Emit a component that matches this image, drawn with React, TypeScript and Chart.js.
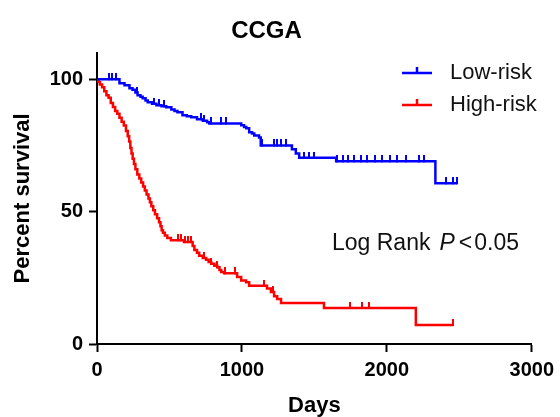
import { useEffect, useRef } from "react";
import { Chart, registerables } from "chart.js";

Chart.register(...registerables);

const FONT = "'Liberation Sans', Arial, Helvetica, sans-serif";

const chartTitle = "CCGA";
const xAxisTitle = "Days";
const yAxisTitle = "Percent survival";
const xTickValues = [0, 1000, 2000, 3000];
const yTickValues = [0, 50, 100];
const seriesNames = ["Low-risk", "High-risk"];
const seriesColors = ["#0000ff", "#ff0000"];
const annotationLead = "Log Rank";
const annotationItalic = "P";
const annotationOp = "<";
const annotationValue = "0.05";

// Low-risk Kaplan-Meier steps (day, percent survival after the step)
const lowRiskDays = [0, 155, 190, 224, 245, 265, 280, 300, 315, 335, 350, 380, 410, 445, 478, 513, 535, 555, 590, 620, 650, 690, 730, 760, 775, 995, 1015, 1030, 1050, 1070, 1085, 1118, 1130, 1345, 1372, 1395, 1650, 2335, 2485];
const lowRiskSurv = [100, 98.5, 97.7, 96.6, 96, 95, 94, 93.4, 92.8, 92, 91.3, 90.8, 90.2, 89.8, 89.4, 88.6, 88, 87.5, 86.4, 86, 85.7, 84.9, 84.3, 83.8, 83.3, 82.6, 82, 81.5, 80, 79.5, 78.8, 78, 75, 73.6, 72, 70.4, 69, 60.7, 60.7];
const lowRiskCensored = [85, 105, 130, 275, 395, 430, 460, 720, 740, 790, 857, 890, 1140, 1220, 1245, 1270, 1305, 1430, 1465, 1500, 1655, 1700, 1735, 1770, 1820, 1860, 1920, 1965, 2025, 2070, 2130, 2220, 2255, 2410, 2455, 2485];

// High-risk Kaplan-Meier steps
const highRiskDays = [0, 10, 20, 35, 50, 65, 80, 95, 110, 125, 140, 155, 170, 185, 200, 212, 222, 230, 238, 246, 255, 265, 278, 292, 305, 318, 330, 342, 355, 365, 375, 388, 400, 415, 428, 438, 446, 455, 468, 485, 510, 600, 660, 672, 690, 705, 730, 753, 770, 788, 810, 830, 845, 857, 877, 967, 995, 1029, 1050, 1173, 1200, 1222, 1243, 1270, 1566, 2200, 2460];
const highRiskSurv = [100, 99, 98, 97, 95.5, 94, 93, 91, 89.5, 88, 87, 85.5, 84, 82.5, 80.5, 78.5, 76.5, 74, 72, 70, 68, 66, 64, 62.5, 61, 59.5, 58, 56.5, 55, 53.5, 52, 50.5, 49, 47.5, 46, 44.5, 43, 42, 41, 40, 39.2, 38.5, 37, 35.5, 34.5, 33.3, 32.5, 31.8, 31, 30.3, 29.6, 29, 28, 27.2, 26.7, 25.3, 24, 23.3, 22, 21, 19.6, 18, 17, 15.5, 13.6, 7.2, 7.2];
const highRiskCensored = [560, 580, 610, 625, 650, 740, 790, 830, 880, 950, 1150, 1215, 1745, 1830, 1875, 2460];

function survivalAt(days: number[], surv: number[], t: number) {
  let s = surv[0];
  for (let i = 0; i < days.length; i++) if (days[i] <= t) s = surv[i];
  return s;
}

function tickImage(color: string) {
  const c = document.createElement("canvas");
  c.width = 2;
  c.height = 12;
  const ctx = c.getContext("2d")!;
  ctx.fillStyle = color;
  ctx.fillRect(0, 0, 2, 7);
  return c;
}

const legendPlugin = {
  id: "kmLegend",
  afterDraw(chart: any) {
    const ctx = chart.ctx;
    ctx.save();
    const rows = [73, 105];
    seriesNames.forEach((name, i) => {
      const y = rows[i];
      ctx.strokeStyle = seriesColors[i];
      ctx.lineWidth = 2.5;
      ctx.beginPath();
      ctx.moveTo(402, y);
      ctx.lineTo(432, y);
      ctx.moveTo(417, y);
      ctx.lineTo(417, y - 6);
      ctx.stroke();
      ctx.fillStyle = "#111";
      ctx.font = `22px ${FONT}`;
      ctx.textBaseline = "middle";
      ctx.textAlign = "left";
      ctx.fillText(name, 450, y);
    });
    // annotation
    let x = 332;
    const base = 250;
    ctx.textBaseline = "alphabetic";
    ctx.font = `23px ${FONT}`;
    ctx.fillText(annotationLead, x, base);
    x += ctx.measureText(annotationLead).width + 9;
    ctx.font = `italic 23px ${FONT}`;
    ctx.fillText(annotationItalic, x, base);
    x += ctx.measureText(annotationItalic).width + 4;
    ctx.font = `23px ${FONT}`;
    ctx.fillText(annotationOp, x, base);
    x += ctx.measureText(annotationOp).width + 2;
    ctx.fillText(annotationValue, x, base);
    ctx.restore();
  },
};

export default function App() {
  const ref = useRef<HTMLCanvasElement>(null);
  useEffect(() => {
    document.body.style.margin = "0";
    const canvas = ref.current!;
    const lowLine = lowRiskDays.map((d, i) => ({ x: d, y: lowRiskSurv[i] }));
    const highLine = highRiskDays.map((d, i) => ({ x: d, y: highRiskSurv[i] }));
    const lowCens = lowRiskCensored.map((d) => ({ x: d, y: survivalAt(lowRiskDays, lowRiskSurv, d) }));
    const highCens = highRiskCensored.map((d) => ({ x: d, y: survivalAt(highRiskDays, highRiskSurv, d) }));
    const chart = new Chart(canvas, {
      type: "line",
      data: {
        datasets: [
          { label: seriesNames[0], data: lowLine, stepped: true, borderColor: seriesColors[0], borderWidth: 2.5, pointRadius: 0, fill: false },
          { label: seriesNames[1], data: highLine, stepped: true, borderColor: seriesColors[1], borderWidth: 2.5, pointRadius: 0, fill: false },
          { label: "", data: lowCens, showLine: false, pointStyle: tickImage(seriesColors[0]) as any, pointRadius: 3 },
          { label: "", data: highCens, showLine: false, pointStyle: tickImage(seriesColors[1]) as any, pointRadius: 3 },
        ],
      },
      options: {
        animation: false,
        responsive: false,
        devicePixelRatio: 1,
        events: [],
        layout: { padding: { left: 0, right: 27, top: 0, bottom: 0 } },
        plugins: {
          legend: { display: false },
          tooltip: { enabled: false },
          title: {
            display: true,
            text: chartTitle,
            color: "#000",
            font: { family: FONT, size: 24, weight: "bold" },
            padding: { top: 17, bottom: 7 },
          },
        },
        scales: {
          x: {
            type: "linear",
            min: 0,
            max: 3000,
            afterBuildTicks: (s: any) => { s.ticks = xTickValues.map((v) => ({ value: v })); },
            afterFit: (s: any) => { s.height = 73; },
            ticks: { color: "#000", font: { family: FONT, size: 20, weight: "bold" }, padding: 6, maxRotation: 0, callback: (v: any) => String(v) },
            grid: { drawOnChartArea: false, drawTicks: true, tickLength: 8, tickWidth: 2, tickColor: "#000" },
            border: { color: "#000", width: 2 },
            title: { display: true, text: xAxisTitle, color: "#000", font: { family: FONT, size: 22, weight: "bold" }, padding: { top: 0, bottom: -2 } },
          },
          y: {
            type: "linear",
            min: 0,
            max: 110,
            afterBuildTicks: (s: any) => { s.ticks = yTickValues.map((v) => ({ value: v })); },
            afterFit: (s: any) => { s.width = 97; },
            ticks: { color: "#000", font: { family: FONT, size: 20, weight: "bold" }, padding: 6, callback: (v: any) => String(v) },
            grid: { drawOnChartArea: false, drawTicks: true, tickLength: 8, tickWidth: 2, tickColor: "#000" },
            border: { color: "#000", width: 2 },
            title: { display: true, text: yAxisTitle, color: "#000", font: { family: FONT, size: 22, weight: "bold" }, padding: { top: 10, bottom: 0 } },
          },
        },
      },
      plugins: [legendPlugin],
    } as any);
    return () => chart.destroy();
  }, []);
  return <canvas ref={ref} width={560} height={417} style={{ display: "block" }} />;
}
